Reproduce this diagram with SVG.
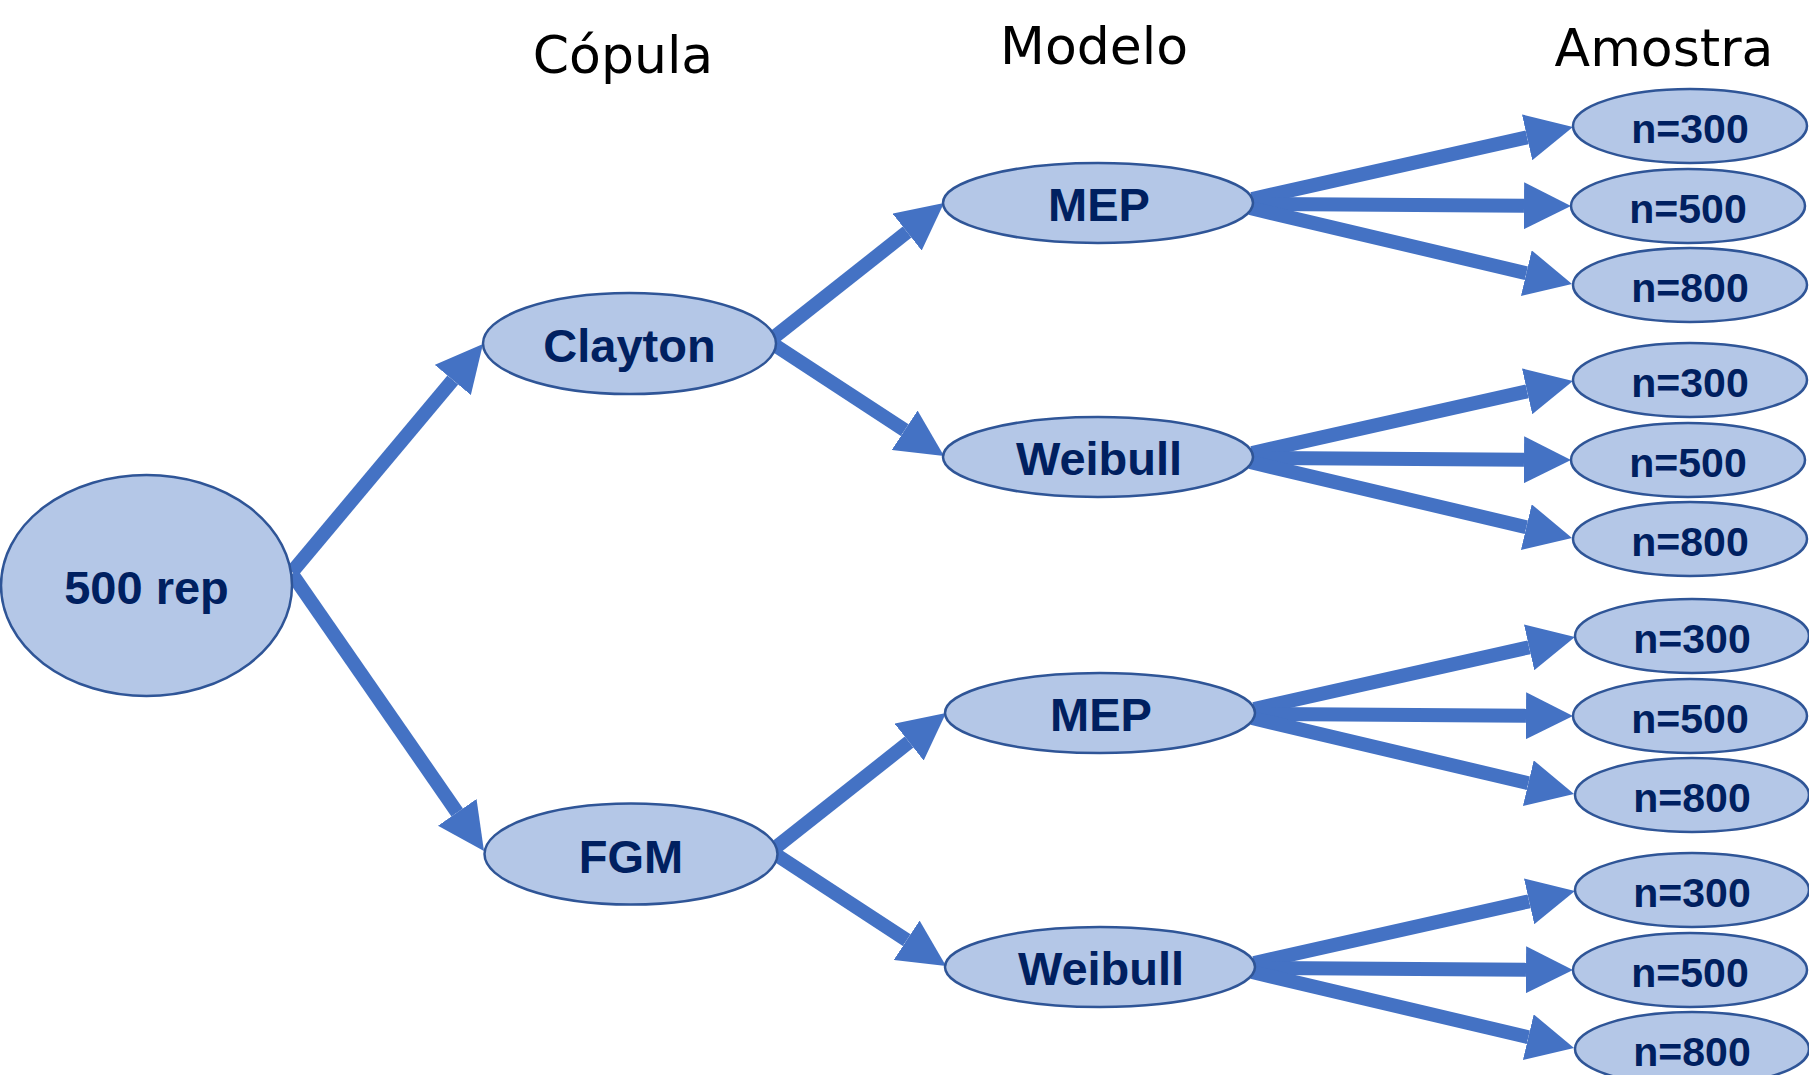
<svg xmlns="http://www.w3.org/2000/svg" width="1809" height="1075" viewBox="0 0 1809 1075">
<style>
  .node { fill: #B4C7E7; stroke: #2F5597; stroke-width: 2.5; }
  .lbl { font-family: "Liberation Sans", Arial, sans-serif; font-weight: bold; fill: #002060; text-anchor: middle; }
  .big { font-size: 47px; }
  .small { font-size: 41px; }
  .head { font-family: "DejaVu Sans", "Liberation Sans", sans-serif; font-size: 52px; fill: #000000; text-anchor: middle; }
  .conn { stroke: #4472C4; stroke-width: 14; fill: none; marker-end: url(#ah); }
</style>
<defs>
  <marker id="ah" markerUnits="userSpaceOnUse" markerWidth="47" markerHeight="47" refX="0" refY="23.5" orient="auto" viewBox="0 0 47 47">
    <path d="M0,0 L47,23.5 L0,47 Z" fill="#4472C4"/>
  </marker>
</defs>
<rect width="1809" height="1075" fill="#FFFFFF"/>

<g id="headers">
  <text class="head" x="623" y="73">Cópula</text>
  <text class="head" x="1094" y="64">Modelo</text>
  <text class="head" x="1664" y="66">Amostra</text>
</g>

<g id="connectors">
  <line class="conn" x1="292" y1="572" x2="452.8" y2="380"/>
  <line class="conn" x1="292" y1="574" x2="457.2" y2="812.4"/>
  <line class="conn" x1="773" y1="338" x2="907.1" y2="232.1"/>
  <line class="conn" x1="773" y1="344" x2="904.7" y2="430.2"/>
  <line class="conn" x1="775" y1="848" x2="909.1" y2="742.1"/>
  <line class="conn" x1="775" y1="854" x2="906.7" y2="940.2"/>

  <line class="conn" x1="1252" y1="199" x2="1527.1" y2="137.3"/>
  <line class="conn" x1="1253" y1="204" x2="1524" y2="205.7"/>
  <line class="conn" x1="1250" y1="208" x2="1526.3" y2="273.2"/>

  <line class="conn" x1="1252" y1="453" x2="1527.1" y2="391.3"/>
  <line class="conn" x1="1253" y1="458" x2="1524" y2="459.7"/>
  <line class="conn" x1="1250" y1="462" x2="1526.3" y2="527.2"/>

  <line class="conn" x1="1254" y1="709" x2="1529.1" y2="647.3"/>
  <line class="conn" x1="1255" y1="714" x2="1526" y2="715.7"/>
  <line class="conn" x1="1252" y1="718" x2="1528.3" y2="783.2"/>

  <line class="conn" x1="1254" y1="963" x2="1529.1" y2="901.3"/>
  <line class="conn" x1="1255" y1="968" x2="1526" y2="969.7"/>
  <line class="conn" x1="1252" y1="972" x2="1528.3" y2="1037.2"/>
</g>

<g id="root">
  <ellipse class="node" cx="146.5" cy="585.5" rx="145.5" ry="110.5"/>
  <text class="lbl big" x="146.5" y="604">500 rep</text>
</g>

<g id="clayton">
  <ellipse class="node" cx="629.5" cy="343.5" rx="146.5" ry="50.5"/>
  <text class="lbl big" x="629.5" y="362">Clayton</text>
</g>
<g id="fgm">
  <ellipse class="node" cx="631" cy="854" rx="146.5" ry="50.5"/>
  <text class="lbl big" x="631" y="872.5">FGM</text>
</g>

<g id="mep1">
  <ellipse class="node" cx="1098" cy="203" rx="155" ry="40"/>
  <text class="lbl big" x="1099" y="220.5">MEP</text>
</g>
<g id="weibull1">
  <ellipse class="node" cx="1098" cy="457" rx="155" ry="40"/>
  <text class="lbl big" x="1099" y="474.5">Weibull</text>
</g>
<g id="mep2">
  <ellipse class="node" cx="1100" cy="713" rx="155" ry="40"/>
  <text class="lbl big" x="1101" y="730.5">MEP</text>
</g>
<g id="weibull2">
  <ellipse class="node" cx="1100" cy="967" rx="155" ry="40"/>
  <text class="lbl big" x="1101" y="984.5">Weibull</text>
</g>

<g id="s1-300"><ellipse class="node" cx="1690" cy="126" rx="117" ry="37"/><text class="lbl small" x="1690" y="143">n=300</text></g>
<g id="s1-500"><ellipse class="node" cx="1688" cy="206" rx="117" ry="37"/><text class="lbl small" x="1688" y="223">n=500</text></g>
<g id="s1-800"><ellipse class="node" cx="1690" cy="285" rx="117" ry="37"/><text class="lbl small" x="1690" y="302">n=800</text></g>

<g id="s2-300"><ellipse class="node" cx="1690" cy="380" rx="117" ry="37"/><text class="lbl small" x="1690" y="397">n=300</text></g>
<g id="s2-500"><ellipse class="node" cx="1688" cy="460" rx="117" ry="37"/><text class="lbl small" x="1688" y="477">n=500</text></g>
<g id="s2-800"><ellipse class="node" cx="1690" cy="539" rx="117" ry="37"/><text class="lbl small" x="1690" y="556">n=800</text></g>

<g id="s3-300"><ellipse class="node" cx="1692" cy="636" rx="117" ry="37"/><text class="lbl small" x="1692" y="653">n=300</text></g>
<g id="s3-500"><ellipse class="node" cx="1690" cy="716" rx="117" ry="37"/><text class="lbl small" x="1690" y="733">n=500</text></g>
<g id="s3-800"><ellipse class="node" cx="1692" cy="795" rx="117" ry="37"/><text class="lbl small" x="1692" y="812">n=800</text></g>

<g id="s4-300"><ellipse class="node" cx="1692" cy="890" rx="117" ry="37"/><text class="lbl small" x="1692" y="907">n=300</text></g>
<g id="s4-500"><ellipse class="node" cx="1690" cy="970" rx="117" ry="37"/><text class="lbl small" x="1690" y="987">n=500</text></g>
<g id="s4-800"><ellipse class="node" cx="1692" cy="1049" rx="117" ry="37"/><text class="lbl small" x="1692" y="1066">n=800</text></g>
</svg>
